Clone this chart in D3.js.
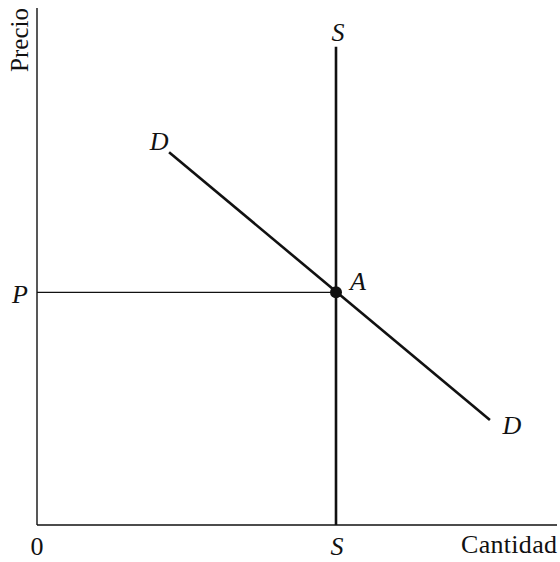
<!DOCTYPE html>
<html>
<head>
<meta charset="utf-8">
<script src="https://cdn.jsdelivr.net/npm/d3@7"></script>
<style>
  html, body { margin: 0; padding: 0; background: #fff; }
  svg { display: block; }
  text { font-family: "Liberation Serif", "DejaVu Serif", serif; fill: #111; }
</style>
</head>
<body>
<svg id="chart" width="560" height="562"></svg>
<script>
// Data (abstract units: quantity 0-100, price 0-100)
const supplyQuantity = 57.5;          // vertical supply S
const supplyTop = 92.5;               // top of the S line
const demandPoints = [[25.4, 72.1], [87.1, 20.3]]; // D line endpoints
const equilibriumPrice = 45;          // P
const axisLabels = ["Precio", "Cantidad"];
const tickLabels = ["0", "S", "P"];
const curveLabels = ["S", "D", "D", "A"];

const svg = d3.select("#chart");
const x = d3.scaleLinear().domain([0, 100]).range([37, 557]);
const y = d3.scaleLinear().domain([0, 100]).range([525, 8]);

// axes
svg.append("line").attr("x1", x(0)).attr("x2", x(0)).attr("y1", y(0)).attr("y2", y(100))
  .attr("stroke", "#111").attr("stroke-width", 1.4);
svg.append("line").attr("x1", x(0)).attr("x2", x(100)).attr("y1", y(0)).attr("y2", y(0))
  .attr("stroke", "#111").attr("stroke-width", 1.4);

// P horizontal line
svg.append("line").attr("x1", x(0)).attr("x2", x(supplyQuantity))
  .attr("y1", y(equilibriumPrice)).attr("y2", y(equilibriumPrice))
  .attr("stroke", "#111").attr("stroke-width", 1.2);

// Supply vertical
svg.append("line").attr("x1", x(supplyQuantity)).attr("x2", x(supplyQuantity))
  .attr("y1", y(0)).attr("y2", y(supplyTop))
  .attr("stroke", "#111").attr("stroke-width", 2.6);

// Demand line
const line = d3.line().x(d => x(d[0])).y(d => y(d[1]));
svg.append("path").datum(demandPoints).attr("d", line)
  .attr("fill", "none").attr("stroke", "#111").attr("stroke-width", 2.6);

// Equilibrium point
svg.append("circle").attr("cx", x(supplyQuantity)).attr("cy", y(equilibriumPrice))
  .attr("r", 6).attr("fill", "#111");

// Labels
const fs = 26;
svg.append("text").attr("transform", `translate(28,40) rotate(-90)`)
  .attr("text-anchor", "middle").attr("font-size", 25).text(axisLabels[0]);
svg.append("text").attr("x", 557).attr("y", 553).attr("text-anchor", "end")
  .attr("font-size", fs).attr("textLength", 96).text(axisLabels[1]);

svg.append("text").attr("x", x(0)).attr("y", 555).attr("text-anchor", "middle")
  .attr("font-size", fs).text(tickLabels[0]);
svg.append("text").attr("x", x(supplyQuantity) + 1).attr("y", 555).attr("text-anchor", "middle")
  .attr("font-size", fs).attr("font-style", "italic").text(tickLabels[1]);
svg.append("text").attr("x", 20).attr("y", y(equilibriumPrice) + 11).attr("text-anchor", "middle")
  .attr("font-size", fs).attr("font-style", "italic").text(tickLabels[2]);

svg.append("text").attr("x", x(supplyQuantity) + 2).attr("y", y(supplyTop) - 6).attr("text-anchor", "middle")
  .attr("font-size", fs).attr("font-style", "italic").text(curveLabels[0]);
svg.append("text").attr("x", x(demandPoints[0][0]) - 10).attr("y", y(demandPoints[0][1]) - 2).attr("text-anchor", "middle")
  .attr("font-size", fs).attr("font-style", "italic").text(curveLabels[1]);
svg.append("text").attr("x", x(demandPoints[1][0]) + 22).attr("y", y(demandPoints[1][1]) + 14).attr("text-anchor", "middle")
  .attr("font-size", fs).attr("font-style", "italic").text(curveLabels[2]);
svg.append("text").attr("x", x(supplyQuantity) + 22).attr("y", y(equilibriumPrice) - 2).attr("text-anchor", "middle")
  .attr("font-size", fs).attr("font-style", "italic").text(curveLabels[3]);
</script>
</body>
</html>
